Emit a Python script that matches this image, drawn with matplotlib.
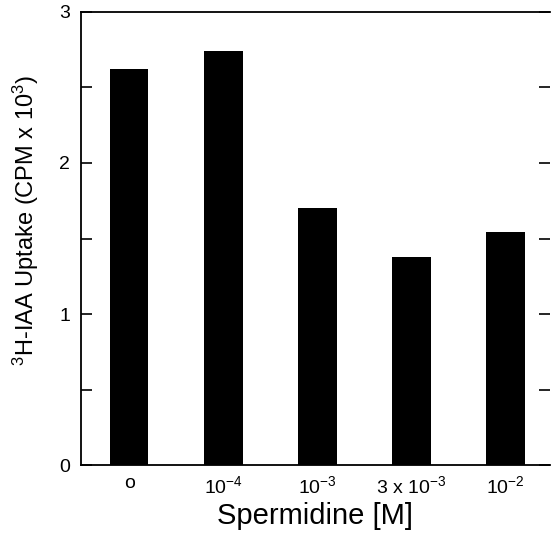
import matplotlib.pyplot as plt
from matplotlib.ticker import MultipleLocator

plt.rcParams['font.family'] = ['Liberation Sans', 'DejaVu Sans']
plt.rcParams['mathtext.fontset'] = 'custom'
plt.rcParams['mathtext.rm'] = 'Liberation Sans'
plt.rcParams['mathtext.it'] = 'Liberation Sans'

# Spermidine concentration vs 3H-IAA uptake
categories = ['o', '$10^{-4}$', '$10^{-3}$', '$3\\ \\mathrm{x}\\ 10^{-3}$', '$10^{-2}$']
uptake = [2.62, 2.74, 1.70, 1.38, 1.54]

def main():
    fig = plt.figure(figsize=(5.52, 5.39), dpi=100)
    ax = fig.add_axes([0.147, 0.137, 0.849, 0.841])

    x = list(range(len(categories)))
    ax.bar(x, uptake, width=0.41, color='black')

    ax.set_xlim(-0.51, 4.47)
    ax.set_ylim(0, 3)
    ax.set_xticks(x)
    ax.set_xticklabels(categories, fontsize=14)
    ax.tick_params(axis='x', length=0, pad=7)

    # labels at whole numbers, tick marks every 0.5 on both sides
    ax.yaxis.set_major_locator(MultipleLocator(1))
    ax.yaxis.set_minor_locator(MultipleLocator(0.5))
    ax.tick_params(axis='y', which='both', direction='in', length=8, width=1.2,
                   labelsize=14, left=True, right=True, pad=8)

    ax.spines['right'].set_visible(False)
    for s in ['left', 'top', 'bottom']:
        ax.spines[s].set_linewidth(1.3)

    ax.set_ylabel('$^{3}$H-IAA Uptake (CPM x 10$^{3}$)', fontsize=17)
    ax.yaxis.set_label_coords(-0.085, 0.54)
    ax.set_xlabel('Spermidine [M]', fontsize=21, labelpad=4)

    fig.savefig('out.png', dpi=100)

if __name__ == "__main__":
    main()
